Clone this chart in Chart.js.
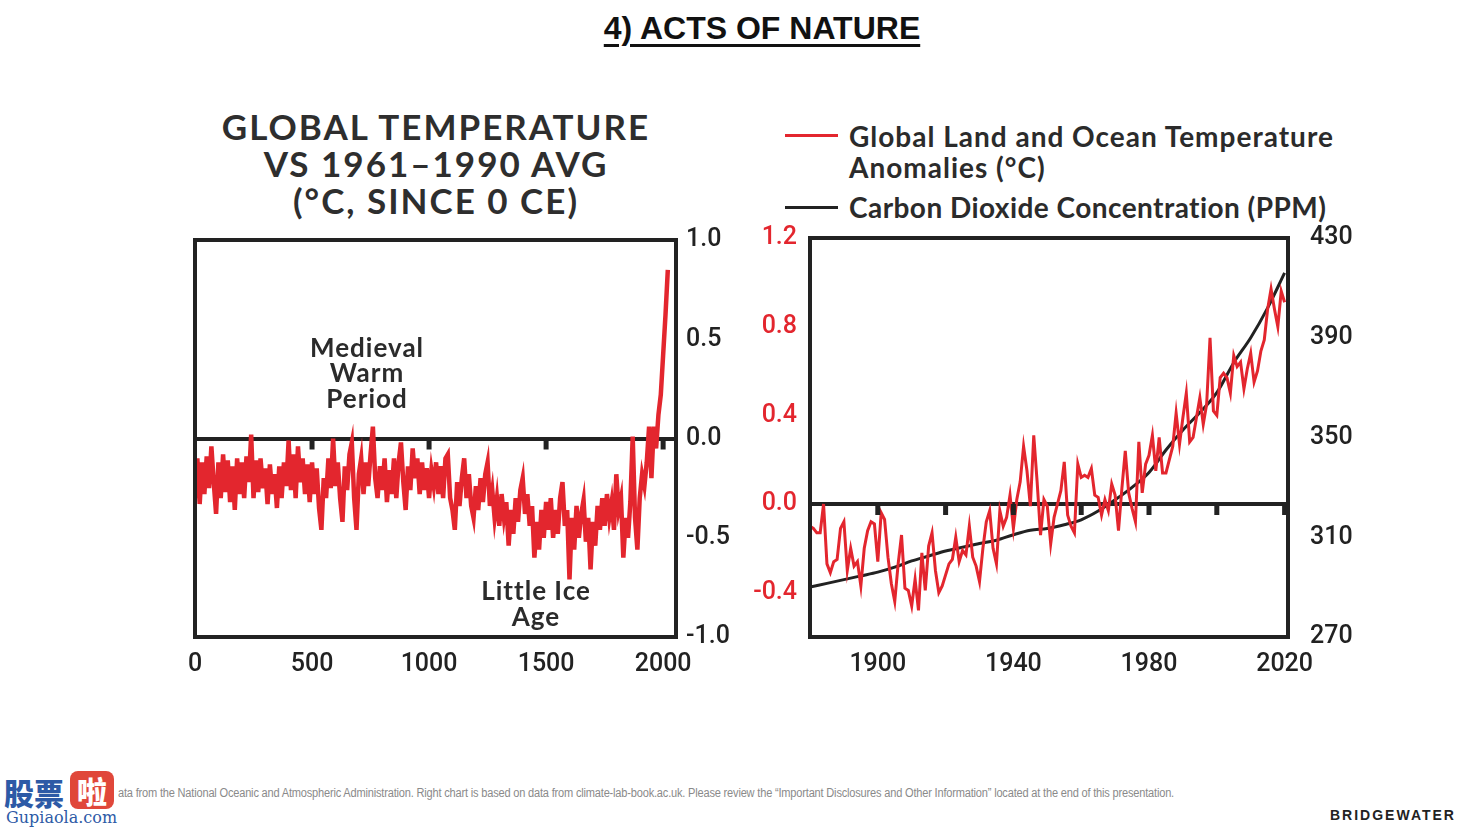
<!DOCTYPE html>
<html>
<head>
<meta charset="utf-8">
<title>Acts of Nature</title>
<script src="https://cdn.jsdelivr.net/npm/chart.js@4.4.1/dist/chart.umd.min.js"></script>
<style>
  body { margin: 0; width: 1470px; height: 828px; background: #fff; position: relative; overflow: hidden; font-family: Lato, "Open Sans", sans-serif; color: #2b2b2b; }
  .abs { position: absolute; white-space: nowrap; }
  #pageTitle { left: 0; width: 1524px; top: 10px; text-align: center; font: bold 32px "Liberation Sans", Arial, sans-serif; color: #111; text-decoration: underline; text-decoration-thickness: 3px; text-underline-offset: 5px; }
  #leftTitle { left: 136px; width: 600px; top: 108px; text-align: center; font-weight: 700; font-size: 35px; line-height: 37px; letter-spacing: 2px; color: #2e2e2e; }
  .legTxt { left: 849px; font-weight: 700; font-size: 28px; letter-spacing: 1px; color: #2b2b2b; }
  .legLine { left: 785px; width: 53px; height: 3px; }
  #footer { left: 118px; top: 786px; font: 12px "Liberation Sans", Arial, sans-serif; color: #8a8a8a; letter-spacing: -0.2px; transform: scaleX(0.92); transform-origin: 0 0; }
  #bw { left: 1330px; top: 807px; font: bold 14px "Liberation Sans", Arial, sans-serif; letter-spacing: 2px; color: #222; }
  #wm1 { left: 4px; top: 770px; font: 900 30px "Noto Sans CJK SC", sans-serif; color: #2d5aa6; }
  #wm2 { left: 70px; top: 771px; width: 44px; height: 38px; background: #e0473a; border-radius: 8px; color: #fff; text-align: center; font: 900 30px/38px "Noto Sans CJK SC", sans-serif; }
  #wm3 { left: 6px; top: 808px; font: 16px "DejaVu Serif", serif; color: #2d5aa6; }
  canvas { position: absolute; }
</style>
</head>
<body>
<div id="pageTitle" class="abs">4) ACTS OF NATURE</div>
<div id="leftTitle" class="abs">GLOBAL TEMPERATURE<br>VS 1961–1990 AVG<br>(°C, SINCE 0 CE)</div>

<div class="abs legLine" style="top:134px;background:#e3262e"></div>
<div class="abs legTxt" style="top:119px">Global Land and Ocean Temperature</div>
<div class="abs legTxt" style="top:150px">Anomalies (°C)</div>
<div class="abs legLine" style="top:206px;background:#222"></div>
<div class="abs legTxt" style="top:190px;letter-spacing:0.45px">Carbon Dioxide Concentration (PPM)</div>

<canvas id="leftChart" width="590" height="475" style="left:150px;top:215px"></canvas>
<canvas id="rightChart" width="640" height="481" style="left:740px;top:209px"></canvas>

<div id="wm1" class="abs">股票</div>
<div id="wm2" class="abs">啦</div>
<div id="wm3" class="abs">Gupiaola.com</div>
<div id="footer" class="abs">ata from the National Oceanic and Atmospheric Administration. Right chart is based on data from climate-lab-book.ac.uk. Please review the “Important Disclosures and Other Information” located at the end of this presentation.</div>
<div id="bw" class="abs">BRIDGEWATER</div>

<script>
// --- datos: grafica izquierda (anomalia cada 10 años, desde el año 0) ---
const leftStartYear = 0;
const leftStep = 10;
const tempSince0 = [
  -0.30,-0.10,-0.33,-0.12,-0.28,-0.09,-0.25,-0.04,-0.22,-0.38, // 0-90
  -0.12,-0.30,-0.08,-0.27,-0.11,-0.32,-0.14,-0.36,-0.10,-0.28, // 100
  -0.12,-0.30,-0.09,-0.22, 0.02,-0.30,-0.11,-0.27,-0.10,-0.25, // 200
  -0.15,-0.33,-0.13,-0.28,-0.18,-0.35,-0.14,-0.30,-0.12,-0.24, // 300
  -0.01,-0.26,-0.08,-0.30,-0.04,-0.22,-0.10,-0.28,-0.13,-0.32, // 400
  -0.12,-0.28,-0.15,-0.35,-0.46,-0.20,-0.30,-0.10,-0.25, 0.00, // 500
  -0.24,-0.12,-0.30,-0.42,-0.14,-0.26,-0.08,-0.02,-0.30,-0.46, // 600
  -0.18,-0.10,-0.28,-0.12,-0.24,-0.08, 0.06,-0.20,-0.30,-0.14, // 700
  -0.26,-0.10,-0.32,-0.16,-0.28,-0.10,-0.30,-0.12,-0.02,-0.22, // 800
  -0.36,-0.14,-0.26,-0.05,-0.20,-0.10,-0.28,-0.12,-0.26,-0.15, // 900
  -0.30,-0.16,-0.24,-0.12,-0.28,-0.14,-0.30,-0.10,-0.08,-0.30, // 1000
  -0.36,-0.46,-0.22,-0.34,-0.20,-0.10,-0.30,-0.18,-0.34,-0.40, // 1100
  -0.24,-0.36,-0.20,-0.32,-0.18,-0.12,-0.34,-0.26,-0.40,-0.30, // 1200
  -0.44,-0.28,-0.40,-0.32,-0.54,-0.36,-0.48,-0.30,-0.42,-0.26, // 1300
  -0.20,-0.38,-0.28,-0.44,-0.34,-0.60,-0.42,-0.56,-0.36,-0.50, // 1400
  -0.32,-0.46,-0.30,-0.50,-0.36,-0.48,-0.30,-0.22,-0.44,-0.36, // 1500
  -0.71,-0.40,-0.56,-0.34,-0.50,-0.38,-0.31,-0.52,-0.40,-0.66, // 1600
  -0.42,-0.54,-0.34,-0.46,-0.30,-0.44,-0.28,-0.40,-0.32,-0.46, // 1700
  -0.18,-0.36,-0.30,-0.60,-0.40,-0.50,-0.32, 0.01,-0.40,-0.56, // 1800
  -0.30,-0.18,-0.24,-0.12, 0.06,-0.20, 0.06,-0.05, 0.12, 0.22, // 1900
   0.42, 0.62, 0.85                                            // 2000-2020
];
const leftXTicks = [0, 500, 1000, 1500, 2000];
const leftYTicks = [-1, -0.5, 0, 0.5, 1];

// --- datos: grafica derecha ---
const anomalyStartYear = 1880;
const anomalies = [
  -0.10,-0.11,-0.13,-0.13, 0.00,-0.27,-0.31,-0.26,-0.25,-0.11, // 1880
  -0.08,-0.30,-0.20,-0.28,-0.26,-0.37,-0.20,-0.12,-0.08,-0.09, // 1890
  -0.26,-0.04,-0.07,-0.24,-0.36,-0.44,-0.27,-0.14,-0.38,-0.39, // 1900
  -0.46,-0.34,-0.48,-0.22,-0.39,-0.19,-0.13,-0.30,-0.40,-0.37, // 1910
  -0.32,-0.27,-0.25,-0.15,-0.26,-0.21,-0.23,-0.10,-0.24,-0.28, // 1920
  -0.35,-0.20,-0.08,-0.03,-0.20,-0.27,-0.03,-0.10,-0.06, 0.04, // 1930
  -0.11, 0.02, 0.10, 0.26, 0.15,-0.01, 0.31, 0.10,-0.14, 0.02, // 1940
  -0.01,-0.18,-0.06, 0.00, 0.06, 0.19,-0.05,-0.10,-0.13, 0.18, // 1950
   0.12, 0.13, 0.12, 0.16, 0.04, 0.03,-0.05, 0.02,-0.03, 0.09, // 1960
   0.04,-0.12, 0.07, 0.24, 0.05,-0.02,-0.08, 0.28, 0.05, 0.18, // 1970
   0.22, 0.31, 0.15, 0.30, 0.14, 0.14, 0.20, 0.26, 0.41, 0.27, // 1980
   0.39, 0.50, 0.28, 0.30, 0.39, 0.48, 0.36, 0.45, 0.75, 0.42, // 1990
   0.40, 0.57, 0.59, 0.57, 0.50, 0.67, 0.62, 0.64, 0.52, 0.61, // 2000
   0.68, 0.55, 0.60, 0.69, 0.74, 0.88, 0.97, 0.88, 0.80, 0.96, // 2010
   0.91                                                         // 2020
];
const co2Years = [1880,1885,1890,1895,1900,1905,1910,1915,1920,1925,1930,1935,1940,1945,1950,1955,1960,1965,1970,1975,1980,1985,1990,1995,2000,2005,2010,2015,2020];
const co2Ppm   = [ 290,291.5, 293,294.5, 296, 298,300.5,302.5,304.5,306,307.5,308.8,311,312.8,313.5,315, 317,320.5, 325, 330, 336, 345, 353, 360, 368, 380, 390, 402, 416];
const rightXTicks = [1900, 1940, 1980, 2020];
const rightXMarks = [1900, 1920, 1940, 1960, 1980, 2000, 2020];
const anomalyTicks = [-0.4, 0, 0.4, 0.8, 1.2];
const co2Ticks = [270, 310, 350, 390, 430];

const RED = '#e3262e';
const DARK = '#222';
const tickFont = { family: 'Roboto', size: 25, weight: '500', lineHeight: 1.2 };

// Marco, linea del cero y marcas
function framePlugin(yId, marks) {
  return {
    id: 'frame',
    afterDatasetsDraw(chart) {
      const { ctx, chartArea: a, scales } = chart;
      const y0 = scales[yId].getPixelForValue(0);
      ctx.save();
      ctx.fillStyle = DARK;
      marks.forEach(m => {
        const x = scales.x.getPixelForValue(m);
        ctx.fillRect(x - 2.5, y0, 5, 11);
      });
      ctx.strokeStyle = DARK;
      ctx.lineWidth = 4;
      ctx.strokeRect(a.left, a.top, a.right - a.left, a.bottom - a.top);
      ctx.restore();
    }
  };
}

const notesPlugin = {
  id: 'notes',
  afterDatasetsDraw(chart) {
    const { ctx, scales } = chart;
    ctx.save();
    ctx.fillStyle = '#2b2b2b';
    ctx.font = '700 26px Lato';
    ctx.letterSpacing = '1px';
    ctx.textAlign = 'center';
    ctx.textBaseline = 'middle';
    const put = (txt, year, val) => ctx.fillText(txt, scales.x.getPixelForValue(year), scales.y.getPixelForValue(val));
    put('Medieval', 735, 0.455);
    put('Warm', 735, 0.325);
    put('Period', 735, 0.195);
    put('Little Ice', 1457, -0.77);
    put('Age', 1457, -0.90);
    ctx.restore();
  }
};

const zeroGrid = {
  drawTicks: false,
  lineWidth: 4,
  color: c => (c.tick && c.tick.value === 0) ? DARK : 'rgba(0,0,0,0)'
};

// Grafica izquierda
new Chart(document.getElementById('leftChart'), {
  type: 'line',
  data: {
    datasets: [{
      data: tempSince0.map((v, i) => ({ x: leftStartYear + i * leftStep, y: v })),
      borderColor: RED,
      borderWidth: 4.5,
      pointRadius: 0,
      tension: 0
    }]
  },
  options: {
    responsive: false,
    animation: false,
    layout: { padding: { left: 45, top: 5, right: 0, bottom: 0 } },
    plugins: { legend: { display: false }, tooltip: { enabled: false } },
    scales: {
      x: {
        type: 'linear', min: 0, max: 2055,
        grid: { display: false }, border: { display: false },
        afterBuildTicks: s => { s.ticks = leftXTicks.map(v => ({ value: v })); },
        afterFit: s => { s.height = 53; },
        ticks: { padding: 5, maxRotation: 0, autoSkip: false, color: DARK, font: tickFont, callback: v => String(v) }
      },
      y: {
        position: 'right', min: -1, max: 1,
        grid: zeroGrid, border: { display: false },
        afterBuildTicks: s => { s.ticks = leftYTicks.map(v => ({ value: v })); },
        afterFit: s => { s.width = 64; },
        ticks: { padding: 10, color: DARK, font: tickFont, callback: v => v.toFixed(1) }
      }
    }
  },
  plugins: [framePlugin('y', [500, 1000, 1500, 2000]), notesPlugin]
});

// Grafica derecha
new Chart(document.getElementById('rightChart'), {
  type: 'line',
  data: {
    datasets: [{
      label: 'Global Land and Ocean Temperature Anomalies (°C)',
      data: anomalies.map((v, i) => ({ x: anomalyStartYear + i, y: v })),
      yAxisID: 'yT',
      borderColor: RED,
      borderWidth: 3,
      pointRadius: 0,
      tension: 0
    }, {
      label: 'Carbon Dioxide Concentration (PPM)',
      data: co2Years.map((yr, i) => ({ x: yr, y: co2Ppm[i] })),
      yAxisID: 'yC',
      borderColor: DARK,
      borderWidth: 3,
      pointRadius: 0,
      cubicInterpolationMode: 'monotone'
    }]
  },
  options: {
    responsive: false,
    animation: false,
    layout: { padding: { left: 0, top: 1, right: 0, bottom: 0 } },
    plugins: { legend: { display: false }, tooltip: { enabled: false } },
    scales: {
      x: {
        type: 'linear', min: 1880, max: 2021,
        grid: { display: false }, border: { display: false },
        afterBuildTicks: s => { s.ticks = rightXTicks.map(v => ({ value: v })); },
        afterFit: s => { s.height = 53; },
        ticks: { padding: 5, maxRotation: 0, autoSkip: false, color: DARK, font: tickFont, callback: v => String(v) }
      },
      yT: {
        position: 'left', min: -0.6, max: 1.2,
        grid: zeroGrid, border: { display: false },
        afterBuildTicks: s => { s.ticks = anomalyTicks.map(v => ({ value: v })); },
        afterFit: s => { s.width = 70; },
        ticks: { padding: 13, color: RED, font: tickFont, callback: v => v.toFixed(1) }
      },
      yC: {
        position: 'right', min: 270, max: 430,
        grid: { display: false }, border: { display: false },
        afterBuildTicks: s => { s.ticks = co2Ticks.map(v => ({ value: v })); },
        afterFit: s => { s.width = 92; },
        ticks: { padding: 14, color: DARK, font: tickFont }
      }
    }
  },
  plugins: [framePlugin('yT', rightXMarks)]
});
</script>
</body>
</html>
